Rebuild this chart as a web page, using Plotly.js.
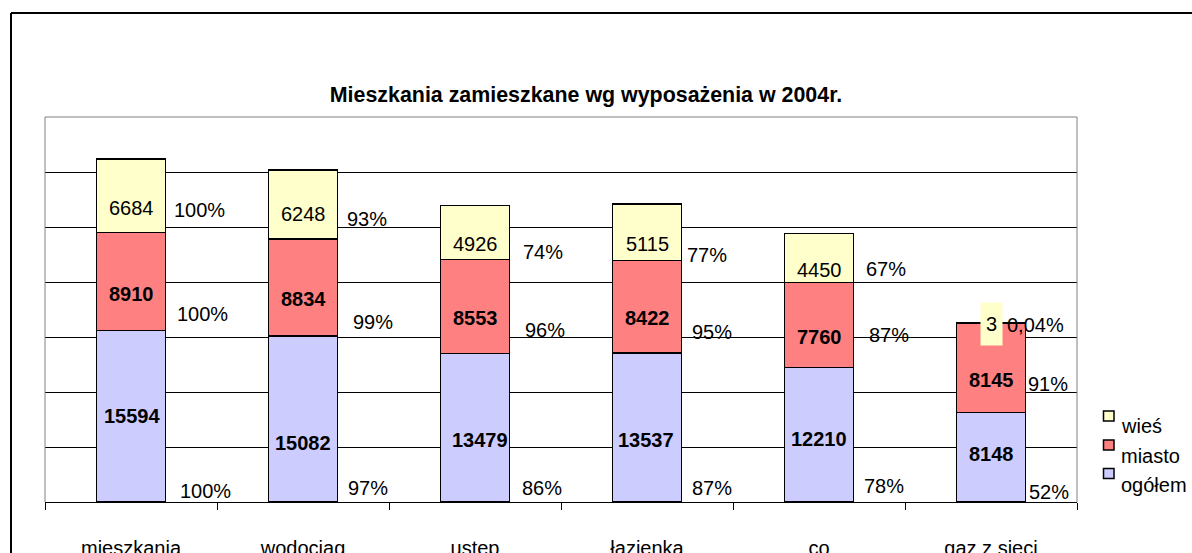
<!DOCTYPE html>
<html>
<head>
<meta charset="utf-8">
<script src="https://cdn.plot.ly/plotly-3.0.1.min.js"></script>
<style>html,body{margin:0;padding:0;background:#fff;}#chart{width:1192px;height:553px;}</style>
</head>
<body>
<div id="chart"></div>
<script>
// ---- data ----
const categories = ['mieszkania', 'wodociąg', 'ustęp', 'łazienka', 'co', 'gaz z sieci'];
const ogolem = [15594, 15082, 13479, 13537, 12210, 8148];
const miasto = [8910, 8834, 8553, 8422, 7760, 8145];
const wies = [6684, 6248, 4926, 5115, 4450, 3];
const pctOgolem = ['100%', '97%', '86%', '87%', '78%', '52%'];
const pctMiasto = ['100%', '99%', '96%', '95%', '87%', '91%'];
const pctWies = ['100%', '93%', '74%', '77%', '67%', '0,04%'];
const seriesNames = ['wieś', 'miasto', 'ogółem'];

// ---- label placement (data units on y, pixel offsets on x) ----
const valYWies = [26773, 26164, 23473, 23473, 21091, 16200];
const valYMiasto = [18927, 18455, 16745, 16745, 15027, 11091];
const valYOgolem = [7836, 5409, 5682, 5682, 5709, 4345];
const valXShiftOgolem = [1, 0, 5, -1, 0, 0];
const pctYWies = [26591, 25727, 22755, 22482, 21164, 16118];
const pctYMiasto = [17091, 16364, 15682, 15473, 15227, 10709];
const pctYOgolem = [1018, 1245, 1245, 1245, 1473, 927];
const pctXWies = [43.3, 43.7, 48.3, 39.7, 46.7, 16.3];
const pctXMiasto = [46.3, 50, 50, 44.7, 50, 36.7];
const pctXOgolem = [49, 45.3, 46.7, 44.7, 45, 37.7];

const FONT = 'Arial, "Liberation Sans", sans-serif';
const FS = 20;
const colors = {ogolem: '#CCCCFF', miasto: '#FF8080', wies: '#FFFFCC'};

// plot area in pixels
const L = 45, R = 1077, T = 117, B = 502, W = 1192, H = 553;
const xp = x => (x - L) / (R - L);
const yp = y => (B - y) / (B - T);

function barTrace(name, y, color) {
  return {
    type: 'bar', name: name, x: categories, y: y, width: 0.4,
    marker: {color: color, line: {color: '#000', width: 1.5}},
    hoverinfo: 'x+y+name'
  };
}
const traces = [
  barTrace('ogółem', ogolem, colors.ogolem),
  barTrace('miasto', miasto, colors.miasto),
  barTrace('wieś', wies, colors.wies)
];

const annotations = [];
categories.forEach((c, i) => {
  annotations.push({x: c, y: valYOgolem[i], xref: 'x', yref: 'y', text: '<b>' + ogolem[i] + '</b>',
    showarrow: false, xshift: valXShiftOgolem[i], font: {family: FONT, size: FS, color: '#000'}});
  annotations.push({x: c, y: valYMiasto[i], xref: 'x', yref: 'y', text: '<b>' + miasto[i] + '</b>',
    showarrow: false, font: {family: FONT, size: FS, color: '#000'}});
  const wa = {x: c, y: valYWies[i], xref: 'x', yref: 'y', text: String(wies[i]),
    showarrow: false, font: {family: FONT, size: FS, color: '#000'}};
  if (wies[i] < 500) { wa.bgcolor = colors.wies; wa.width = 19; wa.height = 40; }
  annotations.push(wa);
  [[pctWies, pctYWies, pctXWies], [pctMiasto, pctYMiasto, pctXMiasto], [pctOgolem, pctYOgolem, pctXOgolem]]
    .forEach(([txt, ys, xs]) => {
      annotations.push({x: c, y: ys[i], xref: 'x', yref: 'y', text: txt[i], showarrow: false,
        xanchor: 'left', xshift: xs[i] - 2, font: {family: FONT, size: FS, color: '#000'}});
    });
});

// custom legend
const legendSq = [[411, 421], [440, 450], [468.5, 478.5]];
const legendTextY = [426.4, 456.4, 485.4];
const legendColors = [colors.wies, colors.miasto, colors.ogolem];
const shapes = [];
seriesNames.forEach((n, i) => {
  shapes.push({type: 'rect', xref: 'paper', yref: 'paper', x0: xp(1103.5), x1: xp(1114), y0: yp(legendSq[i][1]), y1: yp(legendSq[i][0]),
    fillcolor: legendColors[i], line: {color: '#000', width: 1.5}});
  annotations.push({xref: 'paper', yref: 'paper', x: xp(1119), y: yp(legendTextY[i]), xanchor: 'left', yanchor: 'middle',
    text: n, showarrow: false, font: {family: FONT, size: FS, color: '#000'}});
});

// plot frame (gray) and outer chart frame (black)
shapes.push({type: 'line', xref: 'paper', yref: 'paper', x0: 0, x1: 0, y0: 0, y1: 1, line: {color: '#808080', width: 1}});
shapes.push({type: 'line', xref: 'paper', yref: 'paper', x0: 0, x1: 1, y0: 1, y1: 1, line: {color: '#808080', width: 1}});
shapes.push({type: 'line', xref: 'paper', yref: 'paper', x0: 1, x1: 1, y0: 0, y1: 1, line: {color: '#808080', width: 1}});
shapes.push({type: 'line', xref: 'paper', yref: 'paper', x0: xp(11), x1: xp(11), y0: yp(13), y1: yp(600), line: {color: '#000', width: 2}});
shapes.push({type: 'line', xref: 'paper', yref: 'paper', x0: xp(11), x1: xp(1250), y0: yp(13), y1: yp(13), line: {color: '#000', width: 2}});

const layout = {
  width: W, height: H,
  margin: {l: L, r: W - R, t: T, b: H - B, pad: 0},
  paper_bgcolor: '#fff', plot_bgcolor: '#fff',
  barmode: 'stack',
  showlegend: false,
  title: {text: '<b>Mieszkania zamieszkane wg wyposażenia w 2004r.</b>', font: {family: FONT, size: 21.4, color: '#000'},
    xref: 'paper', x: xp(586), xanchor: 'center', yref: 'container', y: 1 - 94.4 / H, yanchor: 'middle'},
  xaxis: {type: 'category', categoryorder: 'array', categoryarray: categories, range: [-0.5, 5.5],
    showline: true, linecolor: '#000', linewidth: 1, ticks: 'outside', tickson: 'boundaries', ticklen: 7,
    tickcolor: '#000', tickwidth: 1, ticklabelstandoff: 28, showgrid: false, zeroline: false,
    tickfont: {family: FONT, size: FS, color: '#000'}, fixedrange: true},
  yaxis: {range: [0, 35000], dtick: 5000, tick0: 0, showgrid: true, gridcolor: '#000', gridwidth: 1,
    showticklabels: false, ticks: '', zeroline: false, showline: false, fixedrange: true},
  annotations: annotations,
  shapes: shapes,
  font: {family: FONT, color: '#000'}
};

Plotly.newPlot('chart', traces, layout, {displayModeBar: false, staticPlot: true});
</script>
</body>
</html>
